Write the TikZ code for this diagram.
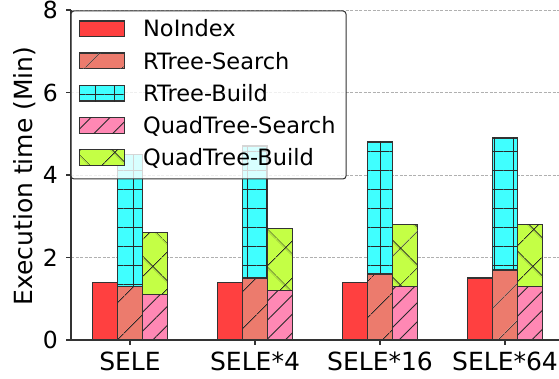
\documentclass[tikz,border=0pt]{standalone}
\usepackage{fontspec}
\setmainfont{DejaVu Sans}
\usepackage{xcolor}
\usepackage{tikz}
\usetikzlibrary{
  patterns.meta,
  positioning
}

\definecolor{noindexred}{HTML}{FF4040}
\definecolor{rsearchsalmon}{HTML}{EC7B6D}
\definecolor{rbuildcyan}{HTML}{40FFFF}
\definecolor{qsearchpink}{HTML}{FF88B4}
\definecolor{qbuildgreen}{HTML}{C4FF45}
\definecolor{edgegray}{HTML}{333333}
\definecolor{hatchgray}{HTML}{2A2A2A}
\definecolor{spinegray}{HTML}{333333}
\definecolor{gridgray}{HTML}{B0B0B0}

\begin{document}
\begin{tikzpicture}[
    x=1pt, y=1pt,
    font=\fontsize{22.5}{27}\selectfont,
    bar/.style={draw=edgegray, line width=1.3pt},
    noindex/.style={bar, fill=noindexred},
    rsearch/.style={bar, fill=rsearchsalmon,
      postaction={pattern={Lines[angle=45, distance=26.9pt, line width=0.9pt]},
        pattern color=hatchgray}},
    rbuild/.style={bar, fill=rbuildcyan,
      postaction={pattern={Hatch[angle=0, distance=19pt, line width=0.9pt]},
        pattern color=hatchgray}},
    qsearch/.style={bar, fill=qsearchpink,
      postaction={pattern={Lines[angle=45, distance=13.4pt, line width=0.9pt]},
        pattern color=hatchgray}},
    qbuild/.style={bar, fill=qbuildgreen,
      postaction={pattern={Hatch[angle=45, distance=26.9pt, line width=0.9pt]},
        pattern color=hatchgray}},
    gridline/.style={gridgray, dash pattern=on 3pt off 1.5pt, line width=0.8pt},
    spine/.style={spinegray, line width=1.3pt},
    ylabelnum/.style={anchor=east, inner sep=0pt, font=\fontsize{23.5}{28}\selectfont},
    xlabelname/.style={anchor=base, inner sep=0pt, yshift=-30.5pt,
      font=\fontsize{25}{30}\selectfont},
    legendkey/.style={inner sep=0pt, minimum width=45pt, minimum height=15.7pt},
    legendtext/.style={anchor=west, inner sep=0pt, text height=16.4pt, text depth=0pt}
  ]
  \useasboundingbox (0,0) rectangle (559,379);

  % The axes: origin of the plot at the lower left corner,
  % one unit of time is 41.25pt high.
  \begin{scope}[shift={(71,39)}, y=41.25pt]
    % Dashed grid behind the bars.
    \foreach \t in {2,4,6,8}
      \draw [gridline] (0,\t) -- (488,\t);

    % SELE
    \draw [noindex] (21.5,0) rectangle (46.5,1.4);
    \draw [rsearch] (46.5,0) rectangle (71.5,1.3);
    \draw [rbuild]  (46.5,1.3) rectangle (71.5,4.5);
    \draw [qsearch] (71.5,0) rectangle (96.5,1.1);
    \draw [qbuild]  (71.5,1.1) rectangle (96.5,2.6);

    % SELE*4
    \draw [noindex] (146.5,0) rectangle (171.5,1.4);
    \draw [rsearch] (171.5,0) rectangle (196.5,1.5);
    \draw [rbuild]  (171.5,1.5) rectangle (196.5,4.7);
    \draw [qsearch] (196.5,0) rectangle (221.5,1.2);
    \draw [qbuild]  (196.5,1.2) rectangle (221.5,2.7);

    % SELE*16
    \draw [noindex] (271.5,0) rectangle (296.5,1.4);
    \draw [rsearch] (296.5,0) rectangle (321.5,1.6);
    \draw [rbuild]  (296.5,1.6) rectangle (321.5,4.8);
    \draw [qsearch] (321.5,0) rectangle (346.5,1.3);
    \draw [qbuild]  (321.5,1.3) rectangle (346.5,2.8);

    % SELE*64
    \draw [noindex] (396.5,0) rectangle (421.5,1.5);
    \draw [rsearch] (421.5,0) rectangle (446.5,1.7);
    \draw [rbuild]  (421.5,1.7) rectangle (446.5,4.9);
    \draw [qsearch] (446.5,0) rectangle (471.5,1.3);
    \draw [qbuild]  (446.5,1.3) rectangle (471.5,2.8);

    % Left and bottom spines.
    \draw [spine] (0,8) -- (0,0) -- (488,0);

    % Ticks and numbers on the time axis.
    \foreach \t in {0,2,4,6,8} {
      \draw [spine] (-5,\t) -- (0,\t);
      \node [ylabelnum] (ytick\t) at (-13,\t) {\t};
    }

    % Ticks and names of the workloads.
    \foreach \g in {59,184,309,434}
      \draw [spine] (\g,0) -- ([yshift=-5pt]\g,0);
    \node [xlabelname] (sele)   at (59,0)  {SELE};
    \node [xlabelname] (sele4)  at (184,0) {SELE*4};
    \node [xlabelname] (sele16) at (309,0) {SELE*16};
    \node [xlabelname] (sele64) at (434,0) {SELE*64};
  \end{scope}

  % Axis title.
  \node [rotate=90, anchor=base, inner sep=0pt,
    font=\fontsize{25}{30}\selectfont] (ytitle) at (32.3,203)
    {Execution time (Min)};

  % Legend box, half see-through.
  \draw [spinegray, line width=1pt, fill=white, fill opacity=0.8,
    rounded corners=3pt] (71,368) rectangle (346,200);

  % Legend keys, one under the other.
  \node [legendkey, noindex] (keynoindex) at (101.8,350.2) {};
  \node [legendkey, rsearch] (keyrsearch) at (101.8,318) {};
  \node [legendkey, rbuild]  (keyrbuild)  at (101.8,285.8) {};
  \node [legendkey, qsearch] (keyqsearch) at (101.8,253.6) {};
  \node [legendkey, qbuild]  (keyqbuild)  at (101.8,221.4) {};

  % Legend texts, right of their keys.
  \node [legendtext, right=18pt of keynoindex] (txtnoindex) {NoIndex};
  \node [legendtext, right=18pt of keyrsearch] (txtrsearch) {RTree-Search};
  \node [legendtext, right=18pt of keyrbuild]  (txtrbuild)  {RTree-Build};
  \node [legendtext, right=18pt of keyqsearch] (txtqsearch) {QuadTree-Search};
  \node [legendtext, right=18pt of keyqbuild]  (txtqbuild)  {QuadTree-Build};
\end{tikzpicture}
\end{document}
